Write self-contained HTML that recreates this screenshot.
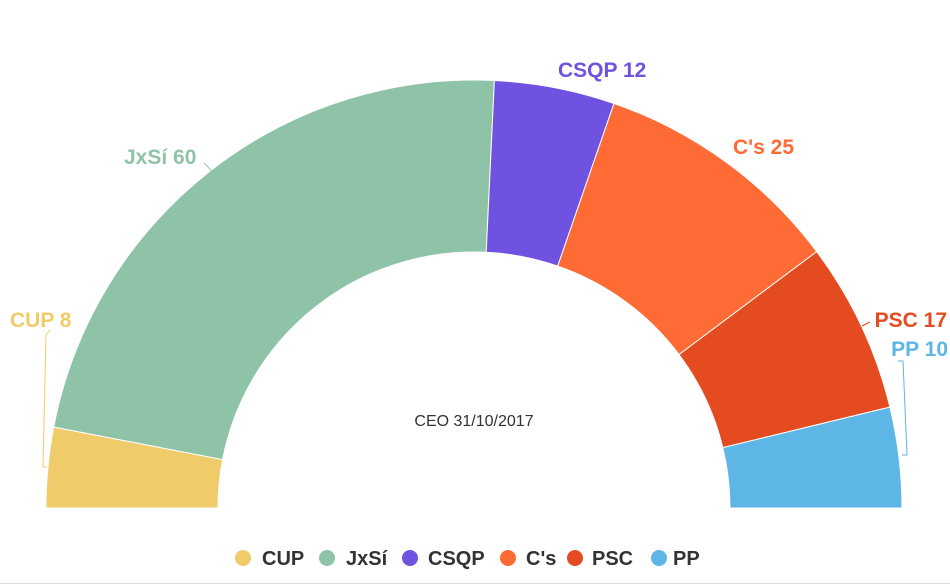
<!DOCTYPE html>
<html><head><meta charset="utf-8"><style>
body{margin:0;background:#fff;}
svg{display:block;font-family:"Liberation Sans",sans-serif;}
</style></head><body>
<svg width="950" height="588" viewBox="0 0 950 588">
<g stroke="#fff" stroke-width="1">
<path d="M46,508 A428,428 0 0 1 53.7,427 L222.6,459.6 A256,256 0 0 0 218,508 Z" fill="#f0cb69"/>
<path d="M53.7,427 A428,428 0 0 1 494.4,80.5 L486.2,252.3 A256,256 0 0 0 222.6,459.6 Z" fill="#8fc3a8"/>
<path d="M494.4,80.5 A428,428 0 0 1 614,103.5 L557.7,266.1 A256,256 0 0 0 486.2,252.3 Z" fill="#6f52e0"/>
<path d="M614,103.5 A428,428 0 0 1 816.7,251.6 L679,354.6 A256,256 0 0 0 557.7,266.1 Z" fill="#ff6b35"/>
<path d="M816.7,251.6 A428,428 0 0 1 889.9,407.1 L722.8,447.6 A256,256 0 0 0 679,354.6 Z" fill="#e44b20"/>
<path d="M889.9,407.1 A428,428 0 0 1 902,508 L730,508 A256,256 0 0 0 722.8,447.6 Z" fill="#5db6e6"/>
</g>
<g fill="none" stroke-width="1">
<path d="M50,330 L46,335 L43,467 L47,467" stroke="#f0cb69"/>
<path d="M204,163 L212,171" stroke="#8fc3a8"/>
<path d="M898,361 L903,361 L907,455 L902,455" stroke="#5db6e6"/>
<path d="M870,322 L862,326" stroke="#e44b20"/>
</g>
<g font-size="21" font-weight="bold">
<text x="10" y="327" fill="#f0cb69">CUP 8</text>
<text x="124" y="164" fill="#8fc3a8">JxSí 60</text>
<text x="558" y="77" fill="#6f52e0">CSQP 12</text>
<text x="733" y="154" fill="#ff6b35">C's 25</text>
<text x="947" y="327" fill="#e44b20" text-anchor="end">PSC 17</text>
<text x="948" y="356" fill="#5db6e6" text-anchor="end">PP 10</text>
</g>
<text x="474" y="426" font-size="16" text-anchor="middle" fill="#333">CEO 31/10/2017</text>
<g font-size="20" font-weight="bold" fill="#333">
<circle cx="243" cy="558" r="8" fill="#f0cb69"/><text x="262" y="565">CUP</text>
<circle cx="327" cy="558" r="8" fill="#8fc3a8"/><text x="346" y="565">JxSí</text>
<circle cx="410" cy="558" r="8" fill="#6f52e0"/><text x="428" y="565">CSQP</text>
<circle cx="508" cy="558" r="8" fill="#ff6b35"/><text x="526" y="565">C's</text>
<circle cx="575" cy="558" r="8" fill="#e44b20"/><text x="592" y="565">PSC</text>
<circle cx="659" cy="558" r="8" fill="#5db6e6"/><text x="673" y="565">PP</text>
</g>
<line x1="0" y1="583.5" x2="950" y2="583.5" stroke="#ddd"/>
</svg>
</body></html>
